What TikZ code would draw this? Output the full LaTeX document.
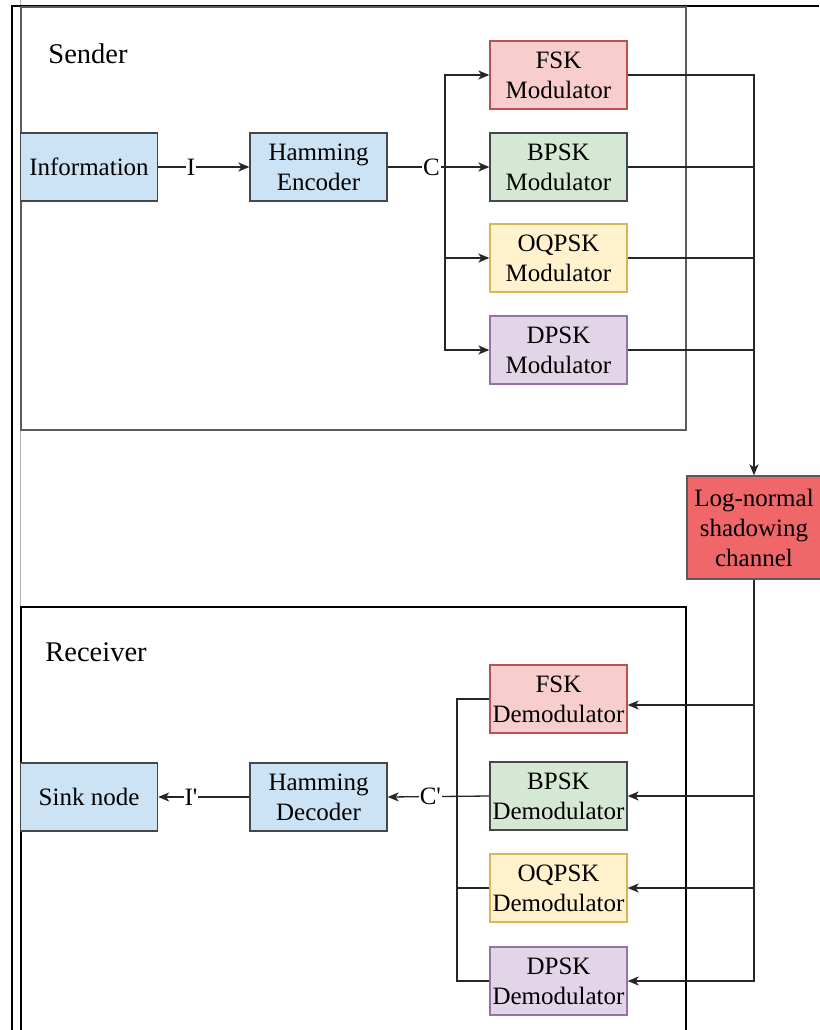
\documentclass[tikz,border=0pt]{standalone}
\usepackage{fontspec}
\setmainfont{LiberationSerif}[Extension=.ttf, UprightFont=*-Regular, BoldFont=*-Bold]
\newfontfamily\diagramfont{LiberationSerif}[Extension=.ttf, UprightFont=*-Regular]
\usetikzlibrary{arrows.meta}

\definecolor{infoFill}{HTML}{CCE2F5}
\definecolor{darkEdge}{HTML}{45474A}
\definecolor{fskFill}{HTML}{F8CECC}
\definecolor{fskEdge}{HTML}{B85450}
\definecolor{bpskFill}{HTML}{D5E8D4}
\definecolor{oqpskFill}{HTML}{FFF2CC}
\definecolor{oqpskEdge}{HTML}{D6B656}
\definecolor{dpskFill}{HTML}{E1D5E7}
\definecolor{dpskEdge}{HTML}{9673A6}
\definecolor{chanFill}{HTML}{F0676A}
\definecolor{chanEdge}{HTML}{5A5A5A}
\definecolor{frameGray}{HTML}{5C5C5C}

\tikzset{
  block/.style={draw, line width=1.3pt, minimum width=137pt, minimum height=68pt,
    inner sep=0pt, align=center, font=\diagramfont\fontsize{25}{30}\selectfont},
  blueblock/.style={block, fill=infoFill, draw=darkEdge},
  fskblock/.style={block, fill=fskFill, draw=fskEdge},
  bpskblock/.style={block, fill=bpskFill, draw=darkEdge},
  oqpskblock/.style={block, fill=oqpskFill, draw=oqpskEdge},
  dpskblock/.style={block, fill=dpskFill, draw=dpskEdge},
  chanblock/.style={block, fill=chanFill, draw=chanEdge, minimum width=134pt, minimum height=103pt},
  wire/.style={line width=1.3pt, draw=black!85},
  arrowwire/.style={wire, -{Stealth[length=11pt,width=9pt,inset=3pt]}},
  wirelabel/.style={fill=white, inner sep=1pt, font=\diagramfont\fontsize{25}{30}\selectfont},
  grouptitle/.style={font=\diagramfont\fontsize{28.5}{34}\selectfont},
}

\begin{document}
\begin{tikzpicture}[x=1pt, y=-1pt]
\useasboundingbox (0,0) rectangle (819,1030);
\fill[white] (0,0) rectangle (819,1030);

% outer frame and inner left rule
\draw[line width=0.9pt, draw=black!30] (20.5,0) -- (20.5,1030);
\draw[line width=2pt, black] (12,1030) -- (12,6) -- (819,6);

% sender and receiver groups
\draw[line width=1.8pt, draw=frameGray] (21,7) rectangle (686,430);
\draw[line width=1.3pt, black] (21,1030) -- (21,607) -- (686,607) -- (686,1030);
\node[grouptitle] (sendertitle) at (88,54) {Sender};
\node[grouptitle] (receivertitle) at (96,652) {Receiver};

% sender blocks
\node[blueblock] (info) at (89,167) {Information};
\node[blueblock] (enc) at (318.5,167) {Hamming\\Encoder};
\node[fskblock] (fsk) at (558.5,75) {FSK\\Modulator};
\node[bpskblock] (bpsk) at (558.5,167) {BPSK\\Modulator};
\node[oqpskblock] (oqpsk) at (558.5,258) {OQPSK\\Modulator};
\node[dpskblock] (dpsk) at (558.5,350) {DPSK\\Modulator};

% channel
\node[chanblock] (chan) at (754,527.5) {Log-normal\\shadowing\\channel};

% receiver blocks
\node[fskblock] (fskd) at (558.5,699) {FSK\\Demodulator};
\node[bpskblock] (bpskd) at (558.5,796) {BPSK\\Demodulator};
\node[oqpskblock] (oqpskd) at (558.5,888) {OQPSK\\Demodulator};
\node[dpskblock] (dpskd) at (558.5,981) {DPSK\\Demodulator};
\node[blueblock] (dec) at (318.5,797) {Hamming\\Decoder};
\node[blueblock] (sink) at (89,797) {Sink node};

% bus points
\coordinate (cbus) at (445,167);
\coordinate (rbus) at (754,167);
\coordinate (dbus) at (457,797);

% sender wiring
\draw[arrowwire] (info) -- node[wirelabel, pos=0.36] (ilabel) {I} (enc);
\draw[arrowwire] (enc) -- node[wirelabel, pos=0.43] (clabel) {C} (bpsk);
\draw[arrowwire] (cbus) |- (fsk);
\draw[arrowwire] (cbus) |- (oqpsk);
\draw[arrowwire] (cbus) |- (dpsk);

% modulators to channel
\draw[arrowwire] (fsk.east) -| (chan.north);
\draw[wire] (bpsk.east) -- (bpsk.east -| rbus);
\draw[wire] (oqpsk.east) -- (oqpsk.east -| rbus);
\draw[wire] (dpsk.east) -- (dpsk.east -| rbus);

% channel to demodulators
\draw[arrowwire] (chan.south) |- ([yshift=-6pt]fskd.east);
\draw[arrowwire] (chan.south) |- (bpskd.east);
\draw[arrowwire] (chan.south) |- (oqpskd.east);
\draw[arrowwire] (chan.south) |- (dpskd.east);

% demodulators to decoder
\draw[wire] (fskd.west) -| (dbus);
\draw[wire] (dpskd.west) -| (dbus);
\draw[wire] (oqpskd.west) -- (oqpskd.west -| dbus);
\draw[arrowwire] (bpskd.west) -- node[wirelabel, pos=0.58] (cplabel) {C\textquotesingle} (dec.east);
\draw[arrowwire] (dec) -- node[wirelabel, pos=0.64] (iplabel) {I\textquotesingle} (sink);
\end{tikzpicture}
\end{document}
